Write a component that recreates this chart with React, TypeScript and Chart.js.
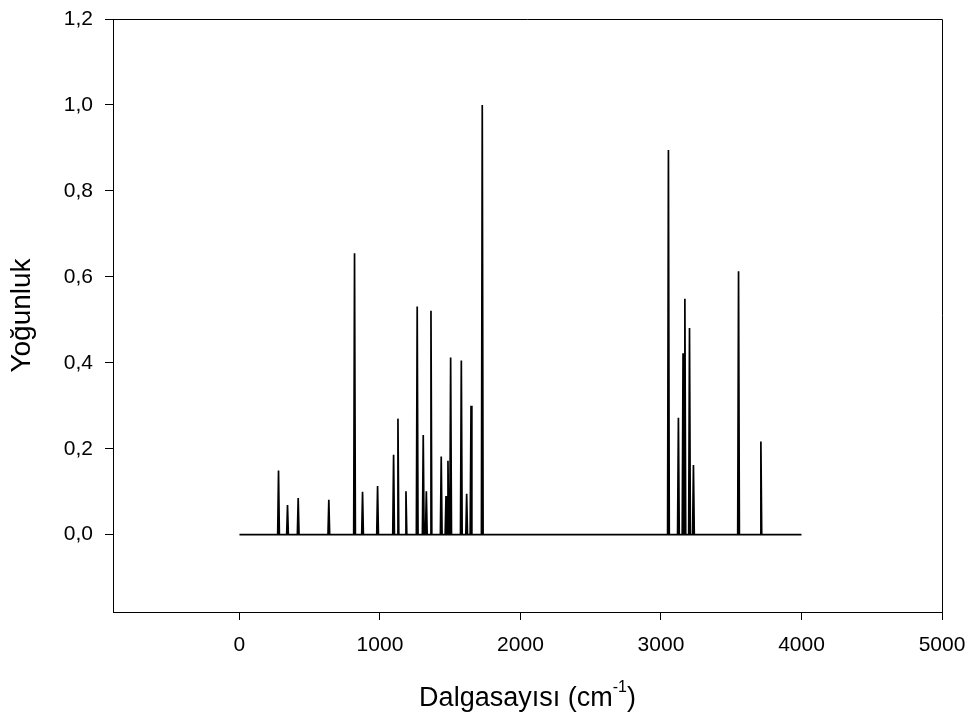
import React, { useEffect, useRef } from "react";
import { Chart, registerables } from "chart.js";

Chart.register(...registerables);

// Peak centres (cm-1) and relative intensities
const peakPositions = [
  278, 342, 418, 636, 819, 876, 983, 1097, 1128, 1185,
  1265, 1308, 1330, 1363, 1436, 1470, 1484, 1503, 1579, 1617,
  1648, 1728, 3053, 3124, 3157, 3170, 3203, 3231, 3552, 3711,
];
const peakIntensities = [
  0.149, 0.069, 0.085, 0.081, 0.655, 0.1, 0.113, 0.186, 0.27, 0.101,
  0.531, 0.232, 0.101, 0.521, 0.182, 0.09, 0.172, 0.412, 0.405, 0.095,
  0.3, 1.0, 0.895, 0.272, 0.422, 0.549, 0.481, 0.162, 0.613, 0.217,
];
const spectrumRange = [0, 4000];
const xTicks = [0, 1000, 2000, 3000, 4000, 5000];
const yTicks = [0, 0.2, 0.4, 0.6, 0.8, 1.0, 1.2];
const xLabel = "Dalgasayısı (cm";
const xLabelSup = "-1";
const xLabelEnd = ")";
const yLabel = "Yoğunluk";

const FONT = "'Liberation Sans', Arial, sans-serif";
const HALF_WIDTH = 6;

function buildPoints() {
  const pts: { x: number; y: number }[] = [{ x: spectrumRange[0], y: 0 }];
  peakPositions.forEach((p, i) => {
    pts.push({ x: p - HALF_WIDTH, y: 0 });
    pts.push({ x: p, y: peakIntensities[i] });
    pts.push({ x: p + HALF_WIDTH, y: 0 });
  });
  pts.push({ x: spectrumRange[1], y: 0 });
  return pts;
}

const framePlugin = {
  id: "frame",
  afterDraw(chart: any) {
    const { ctx, chartArea } = chart;
    const { left, right, top, bottom } = chartArea;
    ctx.save();
    ctx.strokeStyle = "#000";
    ctx.lineWidth = 1;
    ctx.beginPath();
    ctx.moveTo(left, top + 0.5);
    ctx.lineTo(right + 0.5, top + 0.5);
    ctx.lineTo(right + 0.5, bottom);
    ctx.stroke();

    // x-axis title with superscript
    const cx = (left + right) / 2;
    const mainFont = `27px ${FONT}`;
    const supFont = `16px ${FONT}`;
    ctx.fillStyle = "#000";
    ctx.textBaseline = "alphabetic";
    ctx.textAlign = "left";
    ctx.font = mainFont;
    const w1 = ctx.measureText(xLabel).width;
    const w3 = ctx.measureText(xLabelEnd).width;
    ctx.font = supFont;
    const w2 = ctx.measureText(xLabelSup).width;
    let x = cx - (w1 + w2 + w3) / 2;
    const baseY = 706;
    ctx.font = mainFont;
    ctx.fillText(xLabel, x, baseY);
    x += w1;
    ctx.font = supFont;
    ctx.fillText(xLabelSup, x, baseY - 14);
    x += w2;
    ctx.font = mainFont;
    ctx.fillText(xLabelEnd, x, baseY);
    ctx.restore();
  },
};

export default function App() {
  const ref = useRef<HTMLCanvasElement | null>(null);
  useEffect(() => {
    if (!ref.current) return;
    const chart = new Chart(ref.current, {
      type: "line",
      data: {
        datasets: [
          {
            data: buildPoints(),
            borderColor: "#000",
            borderWidth: 1.7,
            pointRadius: 0,
            tension: 0,
            fill: false,
          },
        ],
      },
      options: {
        responsive: false,
        animation: false,
        layout: { padding: { left: 0, top: 19, right: 34, bottom: 0 } },
        plugins: { legend: { display: false }, tooltip: { enabled: false } },
        scales: {
          x: {
            type: "linear",
            min: -900,
            max: 5000,
            afterBuildTicks: (s: any) => {
              s.ticks = xTicks.map((v) => ({ value: v }));
            },
            afterFit: (s: any) => {
              s.height = 106;
              s.paddingRight = 0;
              s.paddingLeft = 0;
            },
            grid: { drawOnChartArea: false, drawTicks: true, tickLength: 8, color: "#000", lineWidth: 1 },
            border: { display: true, color: "#000", width: 1 },
            ticks: {
              color: "#000",
              font: { family: FONT, size: 21 },
              padding: 13,
              maxRotation: 0,
              autoSkip: false,
              callback: (v: any) => String(v),
            },
          },
          y: {
            type: "linear",
            min: -0.18,
            max: 1.2,
            afterBuildTicks: (s: any) => {
              s.ticks = yTicks.map((v) => ({ value: v }));
            },
            afterFit: (s: any) => {
              s.width = 113;
              s.paddingTop = 0;
              s.paddingBottom = 0;
            },
            grid: { drawOnChartArea: false, drawTicks: true, tickLength: 8, color: "#000", lineWidth: 1 },
            border: { display: true, color: "#000", width: 1 },
            title: {
              display: true,
              text: yLabel,
              color: "#000",
              font: { family: FONT, size: 28 },
              padding: { top: 5, bottom: 0 },
            },
            ticks: {
              color: "#000",
              font: { family: FONT, size: 21 },
              padding: 12,
              autoSkip: false,
              callback: (v: any) => Number(v).toFixed(1).replace(".", ","),
            },
          },
        },
      },
      plugins: [framePlugin],
    });
    return () => chart.destroy();
  }, []);
  return (
    <div style={{ position: "fixed", left: 0, top: 0, width: 976, height: 718, background: "#fff" }}>
      <canvas ref={ref} width={976} height={718} style={{ display: "block" }} />
    </div>
  );
}
